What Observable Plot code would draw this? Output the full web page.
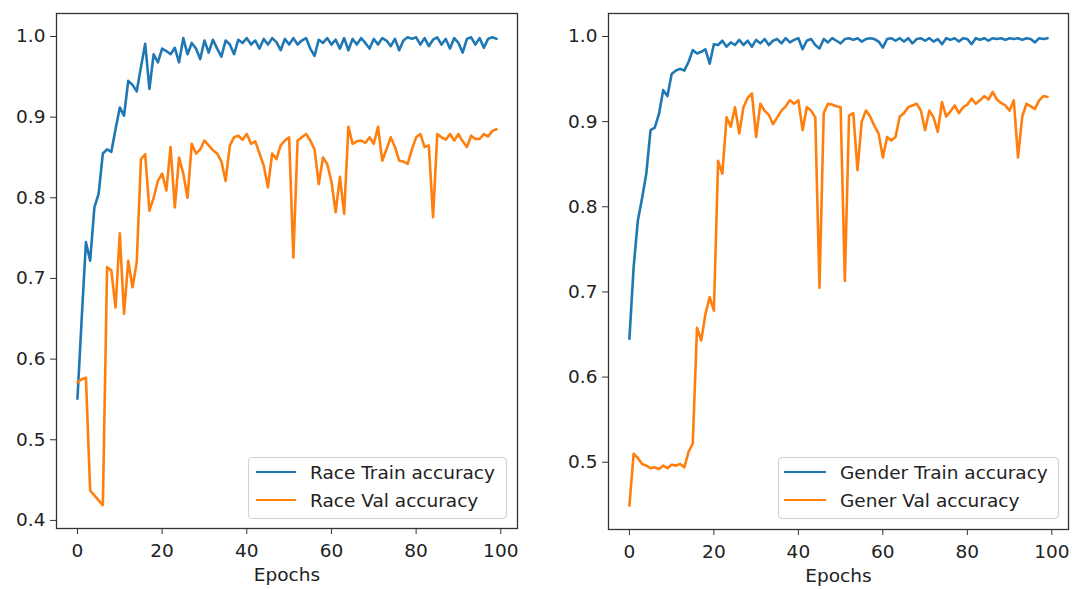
<!DOCTYPE html>
<html>
<head>
<meta charset="utf-8">
<script src="https://cdn.jsdelivr.net/npm/d3@7"></script>
<script src="https://cdn.jsdelivr.net/npm/@observablehq/plot@0.6"></script>
<style>
  body { margin: 0; background: #fff; }
  #wrap { position: relative; width: 1072px; height: 589px; font-family: "DejaVu Sans", sans-serif; }
  #wrap svg { position: absolute; top: 0; background: transparent; }
  .legend { position: absolute; border: 1px solid #d0d0d0; border-radius: 4px; background: rgba(255,255,255,0.85); box-sizing: border-box; }
  .row { position: absolute; left: 0; height: 28px; display: flex; align-items: center; font-size: 18.5px; color: #222; white-space: nowrap; }
  .swatch { display: inline-block; height: 2.6px; margin-right: 14px; }
</style>
</head>
<body>
<div id="wrap"></div>
<script>
const raceTrain = [0.551,0.65,0.745,0.722,0.788,0.805,0.855,0.86,0.857,0.885,0.912,0.902,0.945,0.94,0.932,0.962,0.991,0.935,0.978,0.968,
0.985,0.982,0.978,0.986,0.968,0.998,0.978,0.992,0.985,0.972,0.995,0.98,0.996,0.985,0.975,0.995,0.99,0.978,0.996,0.992,
0.998,0.99,0.995,0.985,0.997,0.99,0.998,0.993,0.983,0.997,0.99,0.998,0.99,0.995,0.998,0.985,0.976,0.996,0.992,0.998,
0.99,0.996,0.985,0.998,0.983,0.997,0.99,0.998,0.992,0.985,0.997,0.99,0.998,0.995,0.988,0.997,0.983,0.995,0.999,0.997,
0.999,0.99,0.998,0.988,0.996,0.999,0.99,0.997,0.985,0.998,0.992,0.98,0.997,0.999,0.99,0.998,0.986,0.997,0.999,0.997];

const raceVal = [0.571,0.575,0.577,0.437,0.431,0.425,0.419,0.714,0.71,0.664,0.756,0.656,0.722,0.689,0.72,0.848,0.854,0.784,0.8,0.821,
0.83,0.809,0.863,0.788,0.85,0.83,0.8,0.867,0.855,0.86,0.871,0.865,0.859,0.855,0.845,0.821,0.865,0.875,0.877,0.872,
0.879,0.867,0.87,0.855,0.84,0.813,0.855,0.848,0.865,0.871,0.875,0.726,0.871,0.875,0.879,0.871,0.86,0.817,0.85,0.842,
0.82,0.782,0.826,0.78,0.888,0.867,0.87,0.871,0.868,0.875,0.867,0.888,0.846,0.86,0.875,0.863,0.846,0.845,0.842,0.86,
0.875,0.879,0.863,0.865,0.776,0.879,0.875,0.872,0.879,0.871,0.879,0.87,0.863,0.877,0.873,0.873,0.879,0.876,0.883,0.885];

const genderTrain = [0.645,0.729,0.784,0.81,0.839,0.89,0.893,0.909,0.937,0.93,0.956,0.96,0.962,0.96,0.97,0.984,0.98,0.982,0.985,0.968,
0.991,0.99,0.995,0.988,0.993,0.99,0.996,0.99,0.995,0.988,0.996,0.992,0.997,0.99,0.995,0.997,0.992,0.998,0.993,0.996,
0.998,0.985,0.995,0.997,0.99,0.986,0.997,0.993,0.998,0.995,0.992,0.997,0.998,0.996,0.998,0.994,0.997,0.998,0.997,0.994,
0.987,0.997,0.998,0.995,0.998,0.994,0.998,0.992,0.997,0.998,0.995,0.998,0.994,0.997,0.991,0.998,0.996,0.998,0.994,0.998,
0.997,0.991,0.998,0.996,0.998,0.995,0.998,0.997,0.998,0.996,0.998,0.997,0.998,0.996,0.998,0.997,0.993,0.998,0.997,0.998];

const genderVal = [0.449,0.51,0.505,0.498,0.496,0.493,0.494,0.492,0.496,0.493,0.497,0.496,0.498,0.494,0.512,0.522,0.658,0.643,0.674,0.694,
0.678,0.854,0.839,0.905,0.894,0.917,0.886,0.917,0.928,0.933,0.882,0.921,0.913,0.908,0.897,0.905,0.913,0.918,0.925,0.921,
0.925,0.89,0.917,0.913,0.905,0.705,0.91,0.921,0.92,0.918,0.917,0.713,0.907,0.91,0.843,0.9,0.913,0.906,0.895,0.886,
0.858,0.882,0.878,0.882,0.906,0.91,0.917,0.919,0.921,0.913,0.89,0.913,0.905,0.888,0.923,0.906,0.912,0.919,0.91,0.917,
0.92,0.927,0.921,0.925,0.93,0.926,0.935,0.926,0.922,0.919,0.913,0.925,0.858,0.906,0.921,0.918,0.915,0.925,0.93,0.929];

const xTicks = [0, 20, 40, 60, 80, 100];
const raceYTicks = [0.4, 0.5, 0.6, 0.7, 0.8, 0.9, 1.0];
const genderYTicks = [0.5, 0.6, 0.7, 0.8, 0.9, 1.0];
const raceLabels = ["Race Train accuracy", "Race Val accuracy"];
const genderLabels = ["Gender Train accuracy", "Gener Val accuracy"];
const xLabel = "Epochs";
const colors = ["#1f77b4", "#ff7f0e"];

function panel(train, val, yDomain, yTicks, m) {
  return Plot.plot({
    width: 536,
    height: 589,
    marginLeft: m.left, marginRight: m.right, marginTop: m.top, marginBottom: m.bottom,
    style: { fontFamily: "DejaVu Sans, sans-serif", fontSize: "18.5px", color: "#222", background: "transparent", overflow: "visible" },
    x: { domain: [-4.95, 103.95] },
    y: { domain: yDomain },
    marks: [
      Plot.axisX({ ticks: xTicks, tickSize: 6, tickPadding: 9, label: null, stroke: "#333" }),
      Plot.axisY({ ticks: yTicks, tickSize: 6, tickPadding: 5, label: null, tickFormat: d3.format(".1f"), stroke: "#333" }),
      Plot.lineY(train, { x: (d, i) => i, y: d => d, stroke: colors[0], strokeWidth: 2.6 }),
      Plot.lineY(val, { x: (d, i) => i, y: d => d, stroke: colors[1], strokeWidth: 2.6 }),
      Plot.frame({ stroke: "#333", strokeWidth: 1.3 }),
      Plot.text([xLabel], { frameAnchor: "bottom", text: d => d, dy: 52, fill: "#222" })
    ]
  });
}

const wrap = document.getElementById("wrap");
const left = panel(raceTrain, raceVal, [0.390, 1.0285], raceYTicks, { left: 56, right: 19, top: 13, bottom: 61 });
left.style.left = "0px";
wrap.appendChild(left);
const right = panel(genderTrain, genderVal, [0.421, 1.027], genderYTicks, { left: 72, right: 4, top: 13, bottom: 60 });
right.style.left = "536px";
wrap.appendChild(right);

function legend(labels, box) {
  const el = document.createElement("div");
  el.className = "legend";
  Object.assign(el.style, { left: box.left + "px", top: box.top + "px", width: box.width + "px", height: box.height + "px" });
  labels.forEach((lab, i) => {
    const row = document.createElement("div");
    row.className = "row";
    row.style.top = (i * 28) + "px";
    row.style.left = box.pad + "px";
    const sw = document.createElement("span");
    sw.className = "swatch";
    sw.style.width = box.sw + "px";
    sw.style.background = colors[i];
    row.appendChild(sw);
    row.appendChild(document.createTextNode(lab));
    el.appendChild(row);
  });
  wrap.appendChild(el);
}
legend(raceLabels, { left: 248, top: 457, width: 259, height: 62, pad: 7, sw: 40 });
legend(genderLabels, { left: 778, top: 457, width: 281, height: 62, pad: 5, sw: 42 });
</script>
</body>
</html>
